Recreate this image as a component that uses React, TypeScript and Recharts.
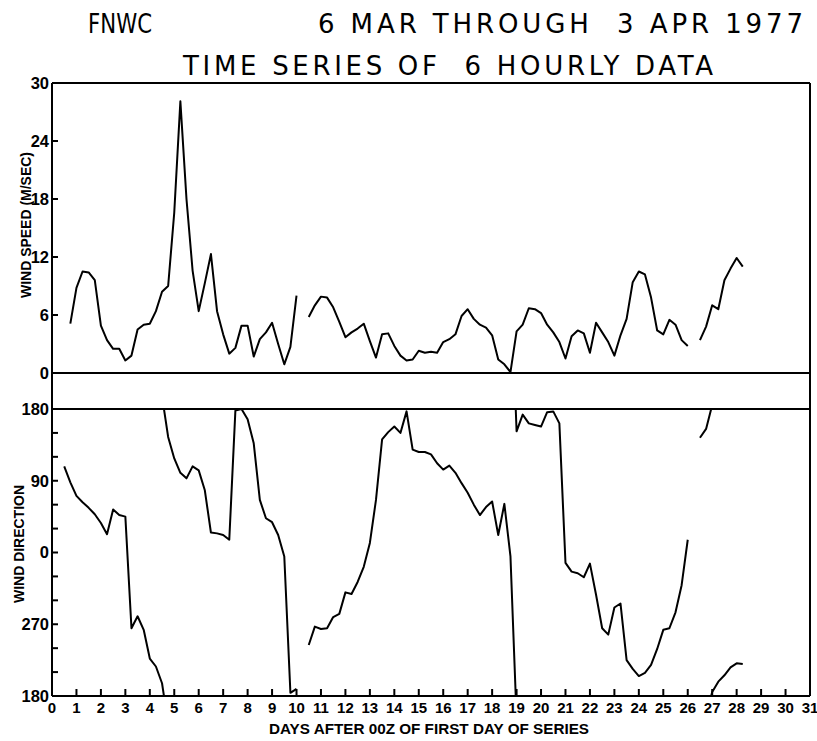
import React from "react";
import { LineChart, Line, XAxis, YAxis, ReferenceLine } from "recharts";

// 6-hourly sample times (days after 00Z of first day)
const days = [
  0.5, 0.75,
  1, 1.25, 1.5, 1.75, 2, 2.25, 2.5, 2.75, 3, 3.25, 3.5, 3.75,
  4, 4.25, 4.5, 4.75, 5, 5.25, 5.5, 5.75, 6, 6.25, 6.5, 6.75,
  7, 7.25, 7.5, 7.75, 8, 8.25, 8.5, 8.75, 9, 9.25, 9.5, 9.75,
  10, 10.25, 10.5, 10.75, 11, 11.25, 11.5, 11.75, 12, 12.25, 12.5, 12.75,
  13, 13.25, 13.5, 13.75, 14, 14.25, 14.5, 14.75, 15, 15.25, 15.5, 15.75,
  16, 16.25, 16.5, 16.75, 17, 17.25, 17.5, 17.75, 18, 18.25, 18.5, 18.75,
  19, 19.25, 19.5, 19.75, 20, 20.25, 20.5, 20.75, 21, 21.25, 21.5, 21.75,
  22, 22.25, 22.5, 22.75, 23, 23.25, 23.5, 23.75, 24, 24.25, 24.5, 24.75,
  25, 25.25, 25.5, 25.75, 26, 26.25, 26.5, 26.75, 27, 27.25, 27.5, 27.75,
  28, 28.25,
];

// wind speed, m/sec (null = missing)
const windSpeed = [
  null, 5.1,
  8.8, 10.5, 10.4, 9.6, 4.9, 3.4, 2.5, 2.5, 1.3, 1.8, 4.5, 5.0,
  5.1, 6.4, 8.4, 9.0, 16.6, 28.1, 18.0, 10.6, 6.4, 9.3, 12.3, 6.4,
  4.0, 2.0, 2.6, 4.9, 4.9, 1.7, 3.5, 4.2, 5.2, 3.0, 0.9, 2.7,
  8.0, null, 5.8, 7.0, 7.9, 7.8, 6.8, 5.3, 3.7, 4.2, 4.6, 5.1,
  3.3, 1.6, 4.0, 4.1, 2.8, 1.8, 1.3, 1.4, 2.3, 2.1, 2.2, 2.1,
  3.2, 3.5, 4.0, 5.9, 6.6, 5.6, 5.0, 4.7, 3.9, 1.4, 0.9, 0.1,
  4.3, 5.0, 6.7, 6.6, 6.2, 5.0, 4.2, 3.2, 1.5, 3.8, 4.4, 4.1,
  2.1, 5.2, 4.2, 3.2, 1.8, 3.9, 5.6, 9.4, 10.5, 10.2, 7.8, 4.4,
  4.0, 5.5, 5.0, 3.4, 2.8, null, 3.4, 4.8, 7.0, 6.6, 9.6, 10.8,
  11.9, 11.0,
];

// wind direction, degrees, unwrapped track (the plot window is 180..540,
// so the same track is also drawn shifted by +/-360 to show the wraps)
const windDirection = [
  468, 448,
  431, 423, 416, 408, 397, 383, 414, 407, 405, 265, 280, 263,
  227, 217, 196, 145, 118, 100, 93, 108, 103, 78, 25, 24,
  22, 16, 178, 180, 167, 137, 66, 43, 38, 22, -5, -176,
  -171, null, 244, 267, 264, 265, 279, 283, 310, 308, 323, 342,
  372, 426, 502, 511, 518, 510, 537, 489, 486, 486, 483, 472,
  464, 469, 460, 447, 435, 420, 407, 417, 424, 382, 421, 355,
  152, 173, 162, 160, 158, 176, 177, 162, -13, -24, -26, -31,
  -14, -53, -95, -103, -69, -64, -135, -146, -155, -151, -141, -121,
  -97, -95, -75, -41, 16, null, 504, 515, 545, 558, 566, 576,
  581, 580,
];

const dayTicks = [
  0, 1, 2, 3, 4, 5, 6, 7, 8, 9, 10, 11, 12, 13, 14, 15,
  16, 17, 18, 19, 20, 21, 22, 23, 24, 25, 26, 27, 28, 29, 30, 31,
];
const speedTicks = [0, 6, 12, 18, 24, 30];
const directionTicks = [180, 210, 240, 270, 300, 330, 360, 390, 420, 450, 480, 510, 540];

const tickFont = "'Liberation Sans', Arial, sans-serif";
const xTickStyle = { fontSize: 15, fontWeight: 700, fill: "#000", fontFamily: tickFont };
const yTickStyle = { fontSize: 16.5, fontWeight: 700, fill: "#000", fontFamily: tickFont };
const black = { stroke: "#000", strokeWidth: 2 };

const rows = days.map((day, i) => {
  const d = windDirection[i];
  return {
    day,
    speed: windSpeed[i],
    dirLow: d == null ? null : d - 360,
    dirMid: d,
    dirHigh: d == null ? null : d + 360,
  };
});

const lineProps = {
  type: "linear" as const,
  stroke: "#000",
  strokeWidth: 2,
  dot: false,
  activeDot: false,
  connectNulls: false,
  isAnimationActive: false,
  strokeLinejoin: "round" as const,
};

const App = () => {
  return (
    <div style={{ position: "absolute", left: 0, top: 0, width: 817, height: 741, background: "#fff" }}>
      <svg width={817} height={741} style={{ position: "absolute", left: 0, top: 0 }}>
        <g fontFamily="'DejaVu Sans', sans-serif" fontSize={26} fill="#000">
          <text x={88} y={33} textLength={64} lengthAdjust="spacingAndGlyphs">FNWC</text>
          <text x={318} y={33} textLength={485} lengthAdjust="spacing" style={{ whiteSpace: "pre" }}>
            6 MAR THROUGH  3 APR 1977
          </text>
          <text x={183} y={75} textLength={530} lengthAdjust="spacing" style={{ whiteSpace: "pre" }}>
            TIME SERIES OF  6 HOURLY DATA
          </text>
        </g>
        <g fontFamily={tickFont} fontWeight={700} fill="#000">
          <text
            transform="translate(25,225) rotate(-90)"
            textAnchor="middle"
            dominantBaseline="central"
            fontSize={15}
            textLength={146}
            lengthAdjust="spacingAndGlyphs"
          >
            WIND SPEED (M/SEC)
          </text>
          <text
            transform="translate(19,544) rotate(-90)"
            textAnchor="middle"
            dominantBaseline="central"
            fontSize={14}
            textLength={118}
            lengthAdjust="spacingAndGlyphs"
          >
            WIND DIRECTION
          </text>
          <text x={429} y={734} textAnchor="middle" fontSize={15} textLength={320} lengthAdjust="spacingAndGlyphs">
            DAYS AFTER 00Z OF FIRST DAY OF SERIES
          </text>
        </g>
        {/* frame between the two panels */}
        <line x1={52} y1={372} x2={52} y2={410} {...black} />
        <line x1={810} y1={372} x2={810} y2={410} {...black} />
      </svg>

      <div style={{ position: "absolute", left: 0, top: 0 }}>
        <LineChart width={817} height={393} data={rows} margin={{ top: 83, right: 7, bottom: 0, left: 0 }}>
          <XAxis
            dataKey="day"
            type="number"
            domain={[0, 31]}
            ticks={dayTicks}
            interval={0}
            tick={false}
            tickSize={-7}
            height={20}
            axisLine={black}
            tickLine={black}
          />
          <YAxis
            domain={[0, 30]}
            ticks={speedTicks}
            interval={0}
            width={52}
            tickSize={-6}
            tickMargin={9}
            tick={yTickStyle}
            axisLine={black}
            tickLine={black}
          />
          <ReferenceLine y={30} {...black} />
          <ReferenceLine x={31} {...black} />
          <Line dataKey="speed" {...lineProps} />
        </LineChart>
      </div>

      <div style={{ position: "absolute", left: 0, top: 380 }}>
        <LineChart width={817} height={361} data={rows} margin={{ top: 29, right: 7, bottom: 0, left: 0 }}>
          <XAxis
            dataKey="day"
            type="number"
            domain={[0, 31]}
            ticks={dayTicks}
            interval={0}
            tickSize={-7}
            tickMargin={13}
            tick={xTickStyle}
            height={45}
            axisLine={black}
            tickLine={black}
          />
          <YAxis
            domain={[180, 540]}
            allowDataOverflow
            ticks={directionTicks}
            interval={0}
            width={52}
            tickSize={-6}
            tickMargin={9}
            tick={yTickStyle}
            tickFormatter={(v: number) => (v % 90 === 0 ? String(v % 360) : "")}
            axisLine={black}
            tickLine={black}
          />
          <ReferenceLine y={540} {...black} />
          <ReferenceLine x={31} {...black} />
          <Line dataKey="dirLow" {...lineProps} />
          <Line dataKey="dirMid" {...lineProps} />
          <Line dataKey="dirHigh" {...lineProps} />
        </LineChart>
      </div>
    </div>
  );
};

export default App;
